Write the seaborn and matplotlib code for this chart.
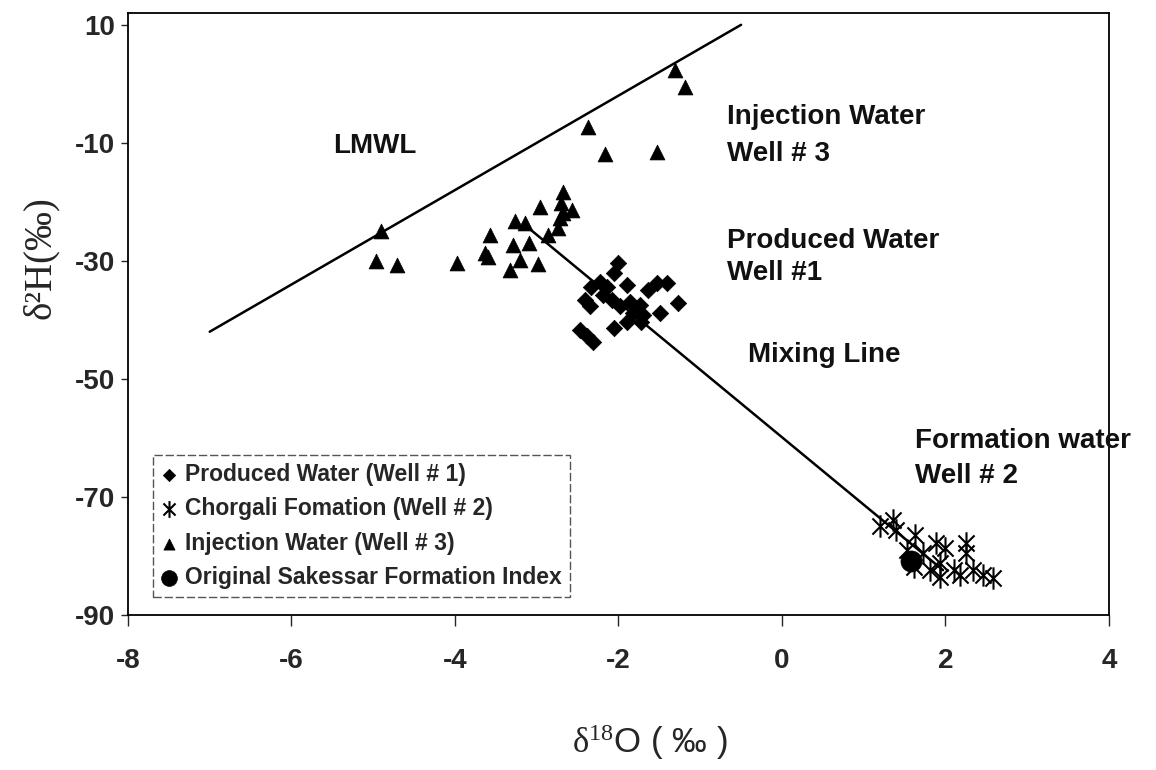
import numpy as np
import pandas as pd
import matplotlib
matplotlib.use("Agg")
import matplotlib.pyplot as plt
from matplotlib.path import Path
import seaborn as sns

# ---------------- data ----------------
produced_x = [-2.00, -2.06, -2.23, -2.33, -2.14, -2.41, -2.35, -2.19, -2.08, -1.98,
              -1.90, -1.86, -1.74, -1.82, -1.70, -2.06, -1.90, -1.64, -1.53, -1.41,
              -1.27, -1.49, -2.47, -2.39, -2.31, -1.72]
produced_y = [-30.4, -32.1, -33.5, -34.4, -34.4, -36.6, -37.7, -35.8, -36.6, -37.7,
              -34.1, -36.9, -37.5, -38.9, -39.2, -41.4, -40.3, -34.9, -33.8, -33.8,
              -37.2, -38.9, -41.7, -42.8, -43.7, -40.3]

chorgali_x = [1.20, 1.36, 1.40, 1.63, 1.53, 1.61, 1.73, 1.89, 1.99, 2.25,
              2.25, 1.93, 2.10, 1.93, 2.18, 2.34, 2.46, 2.58, 1.81]
chorgali_y = [-75.0, -73.9, -75.6, -76.4, -79.0, -81.8, -79.5, -77.8, -78.7, -77.8,
              -79.5, -81.2, -82.4, -83.5, -83.2, -82.4, -83.2, -83.8, -82.4]

injection_x = [-4.90, -4.97, -4.71, -3.98, -3.57, -3.63, -3.60, -3.27, -3.14, -3.29,
               -3.09, -3.21, -3.33, -2.98, -2.96, -2.86, -2.74, -2.68, -2.70, -2.68,
               -2.57, -2.72, -1.31, -1.19, -2.37, -2.17, -1.53]
injection_y = [-25.0, -30.1, -30.7, -30.4, -25.6, -28.7, -29.3, -23.3, -23.6, -27.3,
               -27.0, -29.8, -31.6, -30.5, -20.8, -25.6, -24.5, -18.3, -20.2, -21.9,
               -21.4, -22.8, 2.4, -0.6, -7.3, -11.9, -11.6]

sakessar_x = [1.58]
sakessar_y = [-80.8]

lmwl_x = [-7.0, -0.5]
lmwl_y = [-42.0, 10.0]

mixing_x = [-3.12, 1.97]
mixing_y = [-24.2, -82.4]

series_labels = ["Produced Water (Well # 1)", "Chorgali Fomation (Well # 2)",
                 "Injection Water (Well # 3)", "Original Sakessar Formation Index"]

x_ticks = [-8, -6, -4, -2, 0, 2, 4]
y_ticks = [-90, -70, -50, -30, -10, 10]

# ---------------- style ----------------
sns.set_style("ticks")
plt.rcParams["font.family"] = ["Liberation Sans", "DejaVu Sans"]
plt.rcParams["mathtext.fontset"] = "custom"
plt.rcParams["mathtext.rm"] = "Liberation Serif"
plt.rcParams["mathtext.it"] = "Liberation Serif"
plt.rcParams["mathtext.bf"] = "Liberation Sans:bold"

fig = plt.figure(figsize=(11.56, 7.7), dpi=100)
ax = fig.add_axes([0.1107, 0.2013, 0.8486, 0.7818])

# lines
sns.lineplot(x=lmwl_x, y=lmwl_y, ax=ax, color="black", lw=1.8, sort=False,
             estimator=None)
sns.lineplot(x=mixing_x, y=mixing_y, ax=ax, color="black", lw=1.8, sort=False,
             estimator=None)

star = Path([(0, -1), (0, 1), (-0.72, -0.72), (0.72, 0.72), (-0.72, 0.72), (0.72, -0.72)],
            [Path.MOVETO, Path.LINETO, Path.MOVETO, Path.LINETO, Path.MOVETO, Path.LINETO])

sns.scatterplot(x=produced_x, y=produced_y, ax=ax, marker="D", s=70,
                color="black", edgecolor="black", linewidth=0.5,
                label=series_labels[0], zorder=4)
sns.scatterplot(x=chorgali_x, y=chorgali_y, ax=ax, marker=star, s=260,
                color="black", edgecolor="black", linewidth=1.5,
                label=series_labels[1], zorder=4)
sns.scatterplot(x=injection_x, y=injection_y, ax=ax, marker="^", s=115,
                color="black", edgecolor="black", linewidth=0.5,
                label=series_labels[2], zorder=4)
sns.scatterplot(x=sakessar_x, y=sakessar_y, ax=ax, marker="o", s=230,
                color="black", edgecolor="black", linewidth=0.5,
                label=series_labels[3], zorder=5)

ax.set_xlim(-8, 4)
ax.set_ylim(-90, 12)
ax.set_xticks(x_ticks)
ax.set_yticks(y_ticks)
ax.set_xticklabels([str(v) for v in x_ticks], fontsize=20, fontweight="bold")
ax.set_yticklabels([str(v) for v in y_ticks], fontsize=20, fontweight="bold")
ax.tick_params(axis="x", direction="out", length=8, width=1, pad=16)
ax.tick_params(axis="y", direction="out", length=5, width=1, pad=4)
for sp in ax.spines.values():
    sp.set_visible(True)
    sp.set_linewidth(1.3)
    sp.set_color("black")

ax.set_xlabel(r"$\mathrm{\delta}^{18}$O ( ‰ )", fontsize=25, va="center")
ax.xaxis.set_label_coords(0.532, -0.211)
ax.set_ylabel("δ²H(‰)", fontsize=28, family=["Liberation Serif", "DejaVu Serif"],
              va="center")
ax.yaxis.set_label_coords(-0.089, 0.593)

# annotations
tkw = dict(fontsize=20, fontweight="bold", color="#111111", va="center", ha="left")
ax.text(-5.49, -10.5, "LMWL", **tkw)
ax.text(-0.67, -5.6, "Injection Water", **tkw)
ax.text(-0.67, -11.9, "Well # 3", **tkw)
ax.text(-0.67, -26.6, "Produced Water", **tkw)
ax.text(-0.67, -32.1, "Well #1", **tkw)
ax.text(-0.42, -45.9, "Mixing Line", **tkw)
ax.text(1.63, -60.5, "Formation water", **tkw)
ax.text(1.63, -66.5, "Well # 2", **tkw)

leg = ax.legend(loc="upper left", bbox_to_anchor=(0.0255, 0.266), frameon=True,
                fancybox=False, handlelength=0.7, handletextpad=0.35,
                borderpad=0.35, labelspacing=0.5, markerscale=0.75,
                prop={"size": 16.5, "weight": "bold"}, borderaxespad=0)
fr = leg.get_frame()
fr.set_edgecolor("#555555")
fr.set_linewidth(1.0)
fr.set_linestyle((0, (6, 2)))
fr.set_alpha(1)

fig.savefig("out.png", dpi=100)
